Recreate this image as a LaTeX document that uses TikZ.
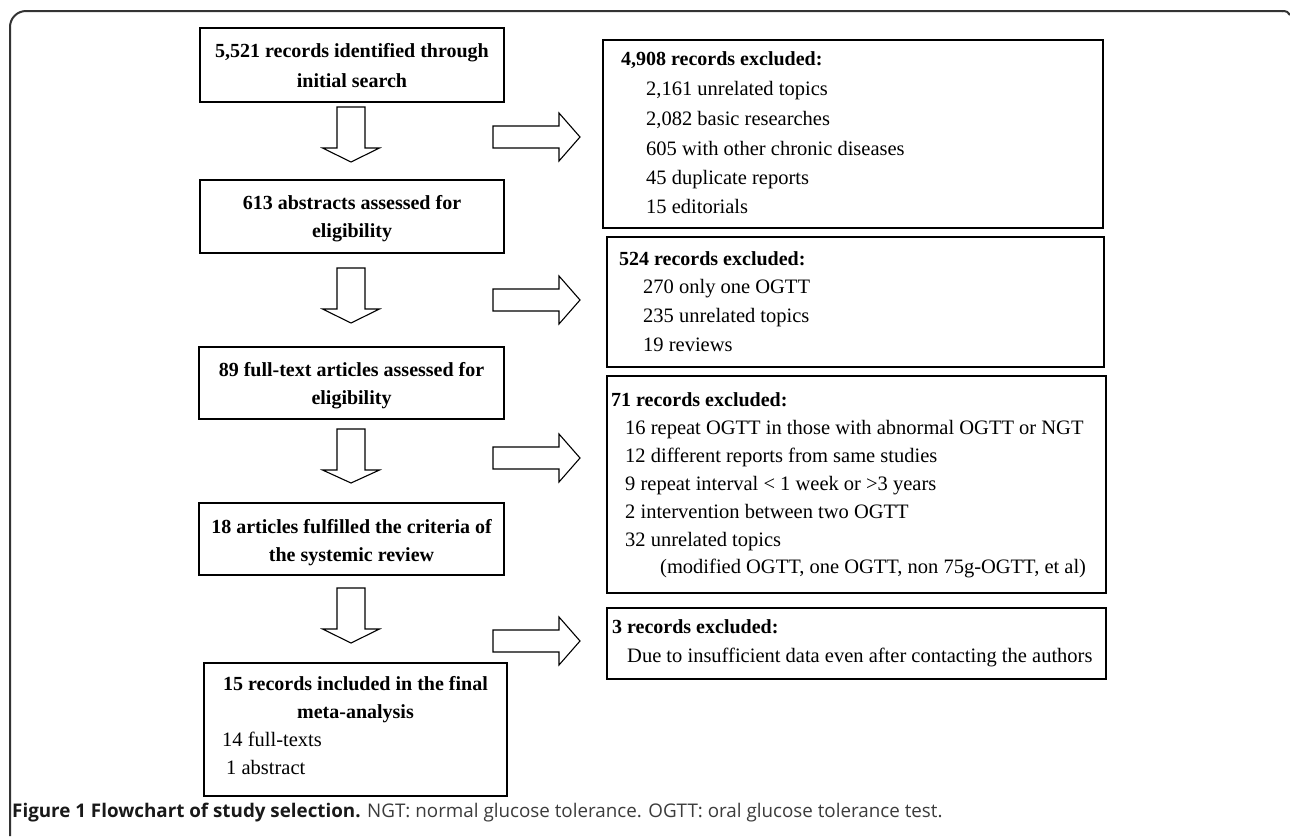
\documentclass[tikz,border=0pt]{standalone}
\usepackage{fontspec}
\setmainfont{Liberation Serif}
\newfontfamily\capfont{Open Sans}
\definecolor{capgray}{HTML}{3C3C3C}
\definecolor{framegray}{HTML}{333333}
\newcommand\dnarrow[4]{%
  \draw[barrow] (#1-14,#2) -- (#1+14,#2) -- (#1+14,#3) -- (#1+28.5,#3) -- (#1,#4) -- (#1-28.5,#3) -- (#1-14,#3) -- cycle;}
\newcommand\rtarrow[1]{%
  \draw[barrow] (493,#1-11) -- (559,#1-11) -- (559,#1-24) -- (580,#1) -- (559,#1+24) -- (559,#1+11) -- (493,#1+11) -- cycle;}
\begin{document}
\begin{tikzpicture}[x=1pt,y=-1pt,
  box/.style={draw=black, line width=1.6pt, inner sep=0pt},
  barrow/.style={draw=black, line width=1.1pt, fill=white, line join=miter},
  txt/.style={inner sep=0pt, font=\fontsize{20.5}{24}\selectfont},
  tb/.style={inner sep=0pt, font=\fontsize{20}{24}\selectfont\bfseries},
  frame/.style={draw=framegray, line width=2pt}]
\useasboundingbox (0,0) rectangle (1290,836);
\fill[white] (0,0) rectangle (1290,836);
% outer frame
\draw[frame, rounded corners=16pt] (10,836) -- (10,11) -- (1283,11);
\draw[frame] (1282,11) .. controls (1286,11) and (1289,12) .. (1290,15);

% left boxes
\node[box, minimum width=304pt, minimum height=74pt] (b1) at (352,65) {};
\node[box, minimum width=304pt, minimum height=73pt] (b2) at (352,216.5) {};
\node[box, minimum width=305pt, minimum height=72pt] (b3) at (351.5,383) {};
\node[box, minimum width=305pt, minimum height=72pt] (b4) at (351.5,539) {};
\node[box, minimum width=303pt, minimum height=133pt] (b5) at (355.5,729.5) {};

\node[tb, anchor=base] (b1a) at (352,57) {5,521 records identified through};
\node[tb, anchor=base] (b1b) at (352,87) {initial search};
\node[tb, anchor=base] (b2a) at (352,209) {613 abstracts assessed for};
\node[tb, anchor=base] (b2b) at (352,237) {eligibility};
\node[tb, anchor=base] (b3a) at (351.5,376) {89 full-text articles assessed for};
\node[tb, anchor=base] (b3b) at (351.5,404) {eligibility};
\node[tb, anchor=base] (b4a) at (351.5,533) {18 articles fulfilled the criteria of};
\node[tb, anchor=base] (b4b) at (351.5,561) {the systemic review};
\node[tb, anchor=base] (b5a) at (355.5,690) {15 records included in the final};
\node[tb, anchor=base] (b5b) at (355.5,718) {meta-analysis};
\node[txt, anchor=base west] (b5c) at (222,746) {14 full-texts};
\node[txt, anchor=base west] (b5d) at (226,774) {1 abstract};

% right boxes
\node[box, minimum width=500pt, minimum height=188pt] (r1) at (853,134) {};
\node[box, minimum width=497pt, minimum height=130pt] (r2) at (855.5,302) {};
\node[box, minimum width=499pt, minimum height=217pt] (r3) at (856.5,484.5) {};
\node[box, minimum width=499pt, minimum height=71pt] (r4) at (856.5,643.5) {};

\node[tb, anchor=base west] (r1t) at (621,65) {4,908 records excluded:};
\node[txt, anchor=base west] (r1a) at (646,95) {2,161 unrelated topics};
\node[txt, anchor=base west] (r1b) at (646,125) {2,082 basic researches};
\node[txt, anchor=base west] (r1c) at (646,155) {605 with other chronic diseases};
\node[txt, anchor=base west] (r1d) at (646,184) {45 duplicate reports};
\node[txt, anchor=base west] (r1e) at (646,213) {15 editorials};

\node[tb, anchor=base west] (r2t) at (619,265) {524 records excluded:};
\node[txt, anchor=base west] (r2a) at (643,293) {270 only one OGTT};
\node[txt, anchor=base west] (r2b) at (643,322) {235 unrelated topics};
\node[txt, anchor=base west] (r2c) at (643,351) {19 reviews};

\node[tb, anchor=base west] (r3t) at (611,406) {71 records excluded:};
\node[txt, anchor=base west] (r3a) at (625,434) {16 repeat OGTT in those with abnormal OGTT or NGT};
\node[txt, anchor=base west] (r3b) at (625,462) {12 different reports from same studies};
\node[txt, anchor=base west] (r3c) at (625,490) {9 repeat interval < 1 week or >3 years};
\node[txt, anchor=base west] (r3d) at (625,518) {2 intervention between two OGTT};
\node[txt, anchor=base west] (r3e) at (625,546) {32 unrelated topics};
\node[txt, anchor=base west] (r3f) at (660,573) {(modified OGTT, one OGTT, non 75g-OGTT, et al)};

\node[tb, anchor=base west] (r4t) at (612,633) {3 records excluded:};
\node[txt, anchor=base west] (r4a) at (627,662) {Due to insufficient data even after contacting the authors};

% block arrows
\dnarrow{351}{107}{148}{162}
\dnarrow{351}{268}{309}{323}
\dnarrow{351}{429}{470}{483}
\dnarrow{351}{588}{629}{643}
\rtarrow{137}
\rtarrow{300}
\rtarrow{458}
\rtarrow{641}

% caption
\node[inner sep=0pt, anchor=base west, font=\capfont\fontsize{18.8}{22}\selectfont] (cap) at (12,817)
  {\textcolor{black!90}{\bfseries Figure 1 Flowchart of study selection.} \textcolor{capgray}{NGT: normal glucose tolerance. OGTT: oral glucose tolerance test.}};
\end{tikzpicture}
\end{document}
